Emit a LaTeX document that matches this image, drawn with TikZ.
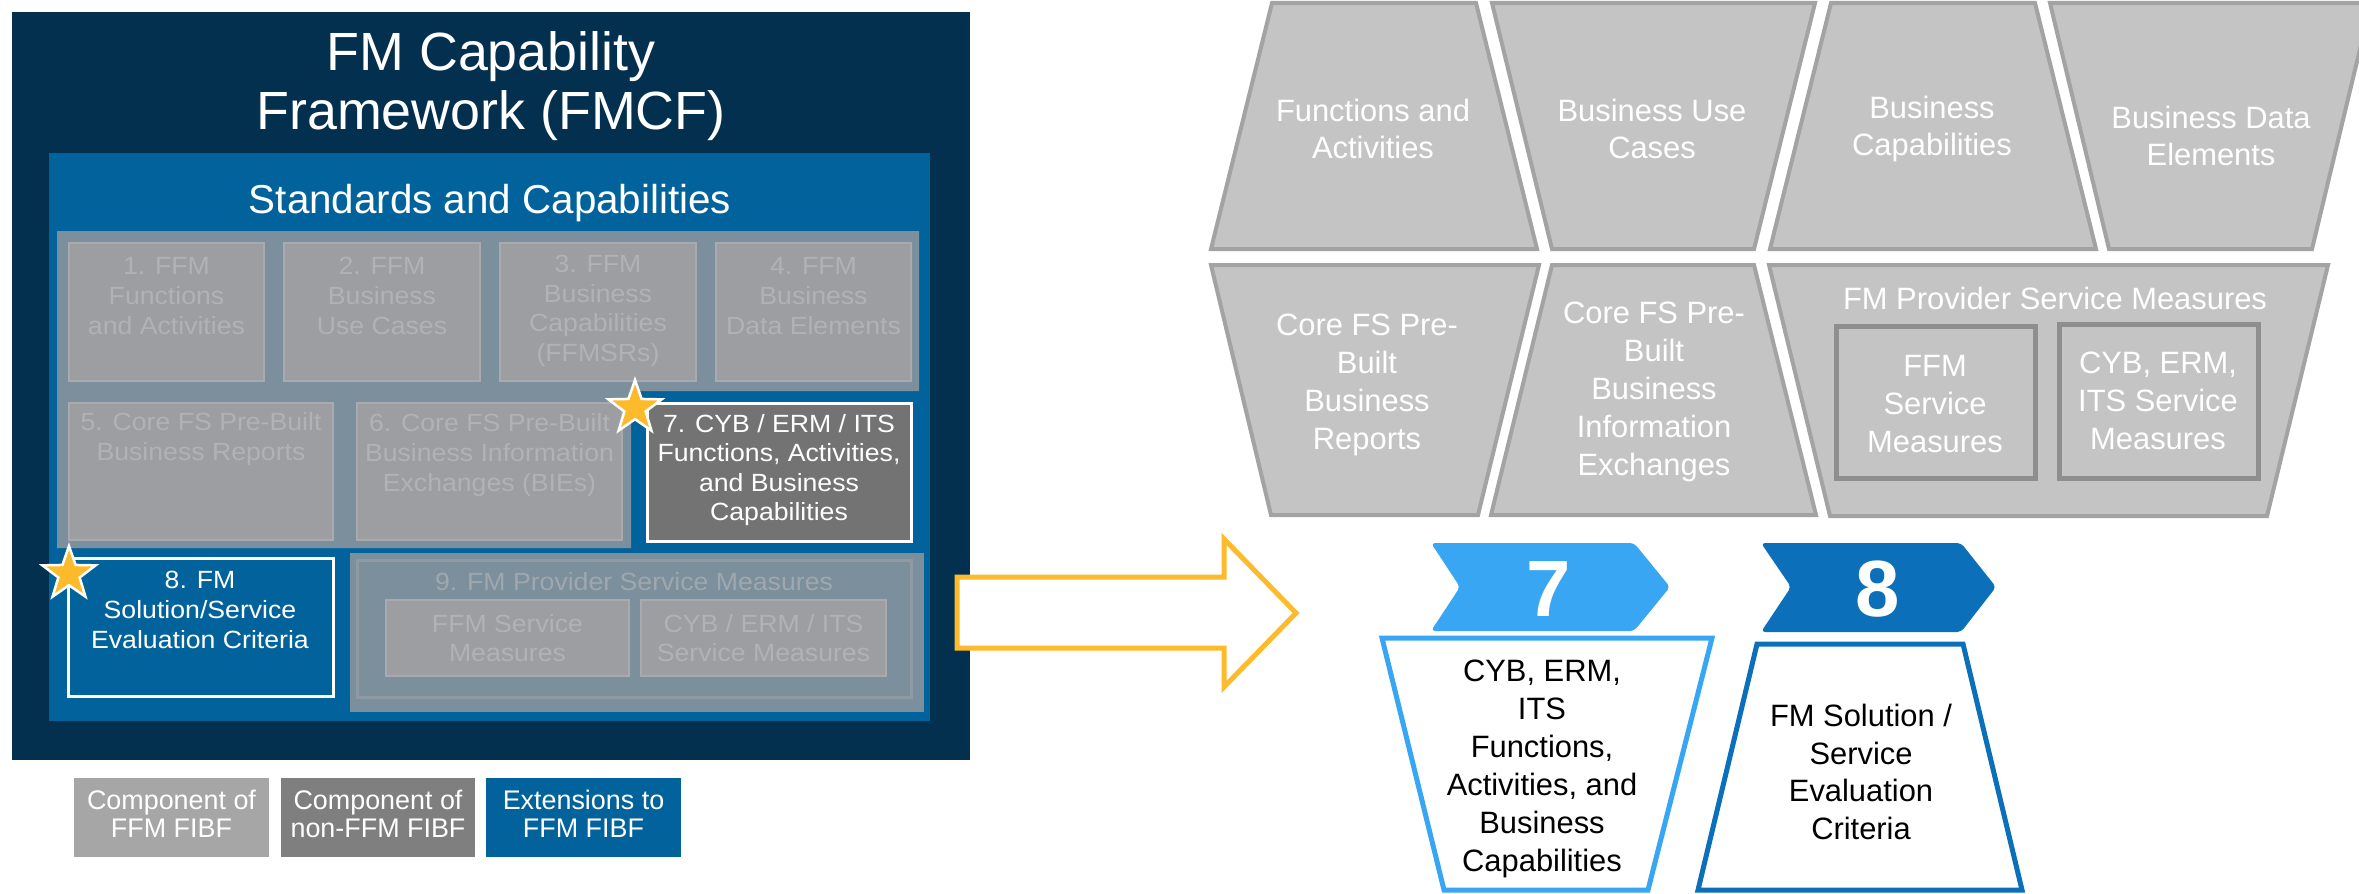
\documentclass[tikz,border=0pt]{standalone}
\usepackage{fontspec}
\setmainfont{Liberation Sans}
\newfontfamily\widesans[FakeStretch=1.07]{Liberation Sans}
\usetikzlibrary{shapes.geometric}
\definecolor{navy}{HTML}{04304F}
\definecolor{midblue}{HTML}{02639C}
\definecolor{slate}{HTML}{7B8F9C}
\definecolor{lgfill}{HTML}{9C9EA1}
\definecolor{lgdraw}{HTML}{A8AAAD}
\definecolor{faint}{HTML}{B0B2B5}
\definecolor{dgray}{HTML}{737373}
\definecolor{gold}{HTML}{FDBB2C}
\definecolor{tfill}{HTML}{C4C4C4}
\definecolor{tdraw}{HTML}{A3A3A3}
\definecolor{ibdraw}{HTML}{8E8E8E}
\definecolor{sky}{HTML}{38A6F2}
\definecolor{deep}{HTML}{0B6FBA}
\definecolor{leg1}{HTML}{A6A6A6}
\definecolor{leg2}{HTML}{7F7F7F}
\definecolor{nineb}{HTML}{8E9BA5}
\definecolor{ninet}{HTML}{A0A8AE}
\begin{document}
\begin{tikzpicture}[x=1bp,y=-1bp,
  rbox/.style={inner sep=0, outer sep=0, anchor=north west},
  lbox/.style={rbox, draw=lgdraw, fill=lgfill, line width=2.5bp},
  ltext/.style={text=faint, align=center, inner sep=0, font=\widesans\fontsize{25}{29.7}\selectfont},
  wtext/.style={text=white, align=center, inner sep=0, font=\widesans\fontsize{25}{29.7}\selectfont},
  legtext/.style={text=white, align=center, inner sep=0, font=\fontsize{27}{28.5}\selectfont},
  trap/.style={draw=tdraw, fill=tfill, line width=4bp, line join=miter},
  rtext/.style={text=white, align=center, inner sep=0, font=\fontsize{31}{38}\selectfont},
  btext/.style={text=black, align=center, inner sep=0, font=\fontsize{31}{38}\selectfont},
  goldstar/.style={star, star points=5, star point ratio=2.5, fill=gold, draw=white, line width=2.5bp, minimum size=56bp, inner sep=0},
  chev/.style={rounded corners=4bp},
  bignum/.style={text=white, inner sep=0, font=\fontsize{80}{80}\selectfont\bfseries}
]
\useasboundingbox (0,0) rectangle (2359,893);
\clip (0,0) rectangle (2359,893);
\fill[white] (0,0) rectangle (2359,893);

% ---------- left panel ----------
\fill[navy] (12,12) rectangle (970,760);
\node[text=white, align=center, inner sep=0, font=\fontsize{54}{60}\selectfont] (title) at (491,86) {FM Capability\\Framework (FMCF)};
\fill[midblue] (49,153) rectangle (930,721);
\node[text=white, inner sep=0, font=\fontsize{40.5}{44}\selectfont] (std) at (490,203) {Standards and Capabilities};
\fill[slate] (57,231) -- (919,231) -- (919,391) -- (631,391) -- (631,548) -- (57,548) -- cycle;
\fill[slate] (350,553) rectangle (924,712);

\node[lbox, minimum width=195bp, minimum height=138bp] (b1) at (69,243) {};
\node[lbox, minimum width=196bp, minimum height=138bp] (b2) at (284,243) {};
\node[lbox, minimum width=196bp, minimum height=138bp] (b3) at (500,243) {};
\node[lbox, minimum width=195bp, minimum height=138bp] (b4) at (716,243) {};
\node[ltext] (t1) at (166.5,296) {1. FFM\\Functions\\and Activities};
\node[ltext] (t2) at (382,296) {2. FFM\\Business\\Use Cases};
\node[ltext] (t3) at (598,311) {3. FFM\\Business\\Capabilities\\(FFMSRs)};
\node[ltext] (t4) at (813.5,296) {4. FFM\\Business\\Data Elements};

\node[lbox, minimum width=264bp, minimum height=137bp] (b5) at (69,403) {};
\node[lbox, minimum width=265bp, minimum height=137bp] (b6) at (357,403) {};
\node[rbox, draw=white, fill=dgray, line width=3bp, minimum width=264bp, minimum height=138bp] (b7) at (647,403) {};
\node[ltext] (t5) at (201,439) {5. Core FS Pre-Built\\Business Reports};
\node[ltext] (t6) at (489.5,455) {6. Core FS Pre-Built\\Business Information\\Exchanges (BIEs)};
\node[wtext] (t7) at (779,470) {7. CYB / ERM / ITS\\Functions, Activities,\\and Business\\Capabilities};

\node[rbox, draw=white, fill=midblue, line width=3bp, minimum width=265bp, minimum height=138bp] (b8) at (68,558) {};
\node[wtext] (t8) at (200,610) {8. FM\\Solution/Service\\Evaluation Criteria};

\node[rbox, draw=nineb, line width=3bp, minimum width=554bp, minimum height=137bp] (b9) at (357,560) {};
\node[text=ninet, inner sep=0, font=\widesans\fontsize{25}{29.7}\selectfont] (t9) at (634,582) {9. FM Provider Service Measures};
\node[lbox, minimum width=243bp, minimum height=76bp] (b9a) at (386,600) {};
\node[lbox, minimum width=245bp, minimum height=76bp] (b9b) at (641,600) {};
\node[ltext] (t9a) at (507.5,638) {FFM Service\\Measures};
\node[ltext] (t9b) at (763.5,638) {CYB / ERM / ITS\\Service Measures};

\node[goldstar] (s7) at (635,408) {};
\node[goldstar] (s8) at (69,574) {};

% legend
\node[rbox, fill=leg1, minimum width=195bp, minimum height=79bp] (l1) at (74,778) {};
\node[rbox, fill=leg2, minimum width=194bp, minimum height=79bp] (l2) at (281,778) {};
\node[rbox, fill=midblue, minimum width=195bp, minimum height=79bp] (l3) at (486,778) {};
\node[legtext] (lt1) at (171.5,814) {Component of\\FFM FIBF};
\node[legtext] (lt2) at (378,814) {Component of\\non-FFM FIBF};
\node[legtext] (lt3) at (583.5,814) {Extensions to\\FFM FIBF};

% ---------- arrow ----------
\draw[gold, line width=5bp, fill=white, line join=miter] (957,577) -- (1224,577) -- (1224,539) -- (1296,613) -- (1224,687) -- (1224,648) -- (957,648) -- cycle;

% ---------- right: trapezoids ----------
\draw[trap] (1272,3) -- (1476,3) -- (1537,249) -- (1211,249) -- cycle;
\draw[trap] (1492,3) -- (1815,3) -- (1754,249) -- (1552,249) -- cycle;
\draw[trap] (1831,3) -- (2035,3) -- (2096,249) -- (1770,249) -- cycle;
\draw[trap] (2050,3) -- (2371,3) -- (2312,249) -- (2109,249) -- cycle;
\node[rtext] (r1) at (1373,129) {Functions and\\Activities};
\node[rtext] (r2) at (1652,129) {Business Use\\Cases};
\node[rtext] (r3) at (1932,129) {Business\\Capabilities};
\node[rtext] (r4) at (2211,136) {Business Data\\Elements};

\draw[trap] (1211,265) -- (1539,265) -- (1478,515) -- (1271,515) -- cycle;
\draw[trap] (1552,265) -- (1754,265) -- (1816,515) -- (1491,515) -- cycle;
\draw[trap] (1769,265) -- (2328,265) -- (2267,516) -- (1830,516) -- cycle;
\node[rtext] (r5) at (1367,385) {Core FS Pre-\\Built\\Business\\Reports};
\node[rtext] (r6) at (1654,392) {Core FS Pre-\\Built\\Business\\Information\\Exchanges};
\node[rtext] (r7) at (2055,298) {FM Provider Service Measures};
\node[rbox, draw=ibdraw, fill=tfill, line width=5bp, minimum width=199bp, minimum height=152bp] (ffm) at (1836,326) {};
\node[rbox, draw=ibdraw, fill=tfill, line width=5bp, minimum width=199bp, minimum height=154bp] (cyb) at (2059,324) {};
\node[rtext] (r7a) at (1935,404) {FFM\\Service\\Measures};
\node[rtext] (r7b) at (2158,401) {CYB, ERM,\\ITS Service\\Measures};

% ---------- chevrons ----------
\fill[sky, chev] (1431,543) -- (1634,543) -- (1670,587) -- (1634,631) -- (1431,631) -- (1460,587) -- cycle;
\fill[deep, chev] (1761,543) -- (1961,543) -- (1996,587) -- (1961,632) -- (1761,632) -- (1791,587) -- cycle;
\node[bignum] (n7) at (1549,589) {7};
\node[bignum] (n8) at (1878,589) {8};

\draw[sky, line width=5bp, fill=white, line join=miter] (1382,638) -- (1712,638) -- (1648,890) -- (1444,890) -- cycle;
\draw[deep, line width=5bp, fill=white, line join=miter] (1757,644) -- (1963,644) -- (2022,890) -- (1698,890) -- cycle;
\node[btext] (c7) at (1542,769) {CYB, ERM,\\ITS\\Functions,\\Activities, and\\Business\\Capabilities};
\node[btext] (c8) at (1861,772) {FM Solution /\\Service\\Evaluation\\Criteria};
\end{tikzpicture}
\end{document}
